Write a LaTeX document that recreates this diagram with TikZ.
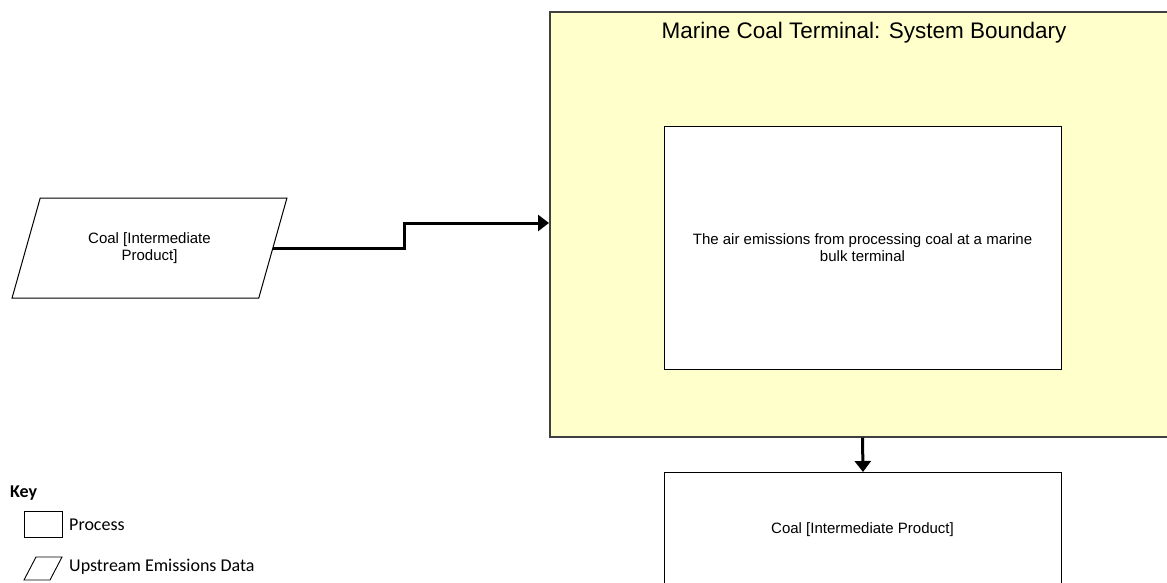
\documentclass[tikz,border=0pt]{standalone}
\usepackage{fontspec}
\setmainfont{Liberation Sans}
\newfontfamily\keyfont{Carlito}
\usetikzlibrary{arrows.meta,shapes.geometric}
\definecolor{boundfill}{HTML}{FFFFCC}
\definecolor{boundline}{HTML}{404040}
\begin{document}
\begin{tikzpicture}[x=1pt,y=-1pt,
  procbox/.style={draw=black, line width=1pt, fill=white, rectangle, inner sep=0pt,
    font=\fontsize{15}{17}\selectfont, align=center},
  databox/.style={draw=black, line width=1pt, fill=white, trapezium,
    trapezium left angle=63, trapezium right angle=117, trapezium stretches=true,
    inner sep=0pt, font=\fontsize{15}{17}\selectfont, align=center},
  boundbox/.style={draw=boundline, line width=1.6pt, fill=boundfill, rectangle, inner sep=0pt},
  flow/.style={line width=3pt, -{Triangle[length=11pt,width=16pt]}},
  keytext/.style={font=\keyfont\fontsize{18}{20}\selectfont, anchor=west, inner sep=0pt},
  keyshape/.style={draw=black, line width=0.9pt}
]
\useasboundingbox (0,0) rectangle (1167,582);

% system boundary (extends past the right edge)
\node[boundbox, anchor=north west, minimum width=630pt, minimum height=425pt] (bound) at (549,11) {};
\node[font=\fontsize{22.5}{24}\selectfont, inner sep=0pt] (title) at (864,33) {Marine Coal Terminal: System Boundary};

% main process
\node[procbox, minimum width=397pt, minimum height=243pt] (proc) at (862.5,247.5)
  {The air emissions from processing coal at a marine\\bulk terminal};

% output product (extends past the bottom edge)
\node[procbox, anchor=north west, minimum width=397pt, minimum height=140pt] (out) at (664,472) {};
\node[font=\fontsize{15}{17}\selectfont, inner sep=0pt] (outtext) at (862.5,530) {Coal [Intermediate Product]};

% upstream input
\node[databox, minimum width=275pt, minimum height=100pt] (coal) at (149.5,248)
  {Coal [Intermediate\\Product]};

% connectors
\coordinate (k1) at (404,223);
\draw[flow] (coal.east) -| (k1) -- (k1 -| bound.west);
\draw[flow] (bound.south -| proc.south) -- (out.north);

% key
\node[keytext, font=\keyfont\bfseries\fontsize{18}{20}\selectfont] (keyhead) at (10,493) {Key};
\node[keyshape, rectangle, anchor=north west, minimum width=38pt, minimum height=26pt, inner sep=0pt] (keyproc) at (24,511) {};
\node[keytext] (keyproctext) at (69,525) {Process};
\coordinate (p1) at (24,580);
\coordinate (p2) at (36,557);
\coordinate (p3) at (62,557);
\coordinate (p4) at (50,580);
\draw[keyshape] (p1) -- (p2) -- (p3) -- (p4) -- cycle;
\node[keytext] (keydatatext) at (69,567) {Upstream Emissions Data};
\end{tikzpicture}
\end{document}
